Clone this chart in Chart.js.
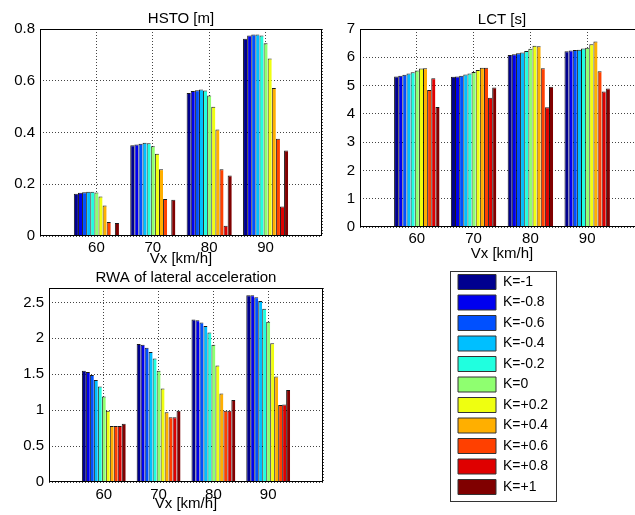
<!DOCTYPE html>
<html><head><meta charset="utf-8">
<script src="https://cdn.jsdelivr.net/npm/chart.js@4.4.1/dist/chart.umd.min.js"></script>
<style>
html,body{margin:0;padding:0;background:#fff;overflow:hidden;width:635px;height:515px}
#wrap{position:relative;width:635px;height:515px;overflow:hidden;background:#fff}
canvas{position:absolute}
</style></head><body>
<div id="wrap">
<canvas id="hsto" width="330" height="270" style="left:0px;top:0px"></canvas>
<canvas id="lct" width="334" height="265" style="left:320px;top:0px"></canvas>
<canvas id="rwa" width="330" height="257" style="left:0px;top:258px"></canvas>
<canvas id="leg" width="108" height="490" style="left:450px;top:269px"></canvas>
</div>
<script>
// ---- data ----
const categories = ['60', '70', '80', '90'];
const kLabels = ['K=-1', 'K=-0.8', 'K=-0.6', 'K=-0.4', 'K=-0.2', 'K=0', 'K=+0.2', 'K=+0.4', 'K=+0.6', 'K=+0.8', 'K=+1'];

const hsto60 = [0.163, 0.167, 0.169, 0.171, 0.171, 0.168, 0.153, 0.118, 0.054, 0.002, 0.050];
const hsto70 = [0.351, 0.354, 0.357, 0.360, 0.358, 0.347, 0.318, 0.258, 0.143, 0.004, 0.140];
const hsto80 = [0.553, 0.560, 0.563, 0.566, 0.562, 0.543, 0.500, 0.412, 0.258, 0.040, 0.234];
const hsto90 = [0.762, 0.775, 0.779, 0.779, 0.775, 0.745, 0.686, 0.572, 0.376, 0.114, 0.330];

const lct60 = [5.32, 5.35, 5.38, 5.43, 5.47, 5.53, 5.60, 5.61, 4.84, 5.26, 4.24];
const lct70 = [5.31, 5.32, 5.35, 5.39, 5.43, 5.48, 5.55, 5.63, 5.63, 4.57, 4.93];
const lct80 = [6.08, 6.11, 6.14, 6.17, 6.22, 6.30, 6.41, 6.39, 5.61, 4.23, 4.96];
const lct90 = [6.21, 6.24, 6.26, 6.27, 6.31, 6.34, 6.46, 6.56, 5.51, 4.79, 4.90];

const rwa60 = [1.55, 1.53, 1.49, 1.42, 1.33, 1.19, 0.99, 0.78, 0.78, 0.78, 0.81];
const rwa70 = [1.92, 1.91, 1.87, 1.81, 1.72, 1.55, 1.30, 0.97, 0.90, 0.90, 0.99];
const rwa80 = [2.26, 2.25, 2.22, 2.17, 2.08, 1.91, 1.62, 1.23, 0.99, 0.99, 1.14];
const rwa90 = [2.60, 2.60, 2.57, 2.52, 2.41, 2.23, 1.93, 1.47, 1.07, 1.08, 1.28];

const hstoTicks = [0, 0.2, 0.4, 0.6, 0.8];
const lctTicks = [0, 1, 2, 3, 4, 5, 6, 7];
const rwaTicks = [0, 0.5, 1, 1.5, 2, 2.5];
const rwaMax = 2.7;

// ---- styles ----
const colors = ['rgb(0,0,143)', 'rgb(0,0,239)', 'rgb(0,80,255)', 'rgb(0,191,255)', 'rgb(32,255,223)',
  'rgb(143,255,112)', 'rgb(239,255,16)', 'rgb(255,175,0)', 'rgb(255,64,0)', 'rgb(223,0,0)', 'rgb(128,0,0)'];

Chart.defaults.font.family = '"Liberation Sans", Arial, Helvetica, sans-serif';
Chart.defaults.font.size = 15;
Chart.defaults.color = '#000';

const axBox = {
  id: 'axbox',
  afterDatasetsDraw(chart) {
    const {ctx, chartArea: a} = chart;
    ctx.save();
    ctx.strokeStyle = '#000';
    ctx.lineWidth = 1;
    ctx.strokeRect(Math.round(a.left) + 0.5, Math.round(a.top) + 0.5,
      Math.round(a.right - a.left) - 1, Math.round(a.bottom - a.top) - 1);
    ctx.restore();
  }
};

function buildDatasets(groups) {
  return kLabels.map((lab, k) => ({
    label: lab,
    data: [null, ...groups.map(g => g[k]), null],
    backgroundColor: colors[k],
    borderColor: 'rgba(0,0,0,0.9)',
    borderWidth: {top: 1, left: 1, right: 0, bottom: 0},
    categoryPercentage: 0.8,
    barPercentage: 1.0
  }));
}

function makeChart(id, groups, cfg) {
  return new Chart(document.getElementById(id), {
    type: 'bar',
    data: {labels: ['', ...categories, ''], datasets: buildDatasets(groups)},
    options: {
      responsive: false, animation: false, devicePixelRatio: 1,
      layout: {padding: {left: 0, right: cfg.padRight, top: 0, bottom: 0}},
      plugins: {
        legend: {display: false},
        tooltip: {enabled: false},
        title: {display: true, text: cfg.title, color: '#000', fullSize: false,
          font: {size: 15, weight: 'normal'}, padding: cfg.titlePad}
      },
      scales: {
        x: {
          type: 'category', offset: false,
          grid: {offset: false, color: '#444', lineWidth: 1, drawTicks: false},
          border: {display: false, dash: [1, 2]},
          ticks: {color: '#000', font: {size: 15}, padding: cfg.xTickPad, autoSkip: false, maxRotation: 0, minRotation: 0},
          title: {display: true, text: 'Vx [km/h]', color: '#000', font: {size: 15}, padding: {top: 0, bottom: 2}},
          afterFit: s => { s.height = cfg.xH; }
        },
        y: {
          min: 0, max: cfg.max,
          grid: {color: '#444', lineWidth: 1, drawTicks: false},
          border: {display: false, dash: [1, 2]},
          ticks: {color: '#000', font: {size: 15}, padding: 5, callback: v => String(v)},
          afterBuildTicks: s => { s.ticks = cfg.ticks.map(v => ({value: v})); },
          afterFit: s => { s.width = cfg.yW; }
        }
      }
    },
    plugins: [axBox]
  });
}

makeChart('hsto', [hsto60, hsto70, hsto80, hsto90],
  {title: 'HSTO [m]', max: 0.8, ticks: hstoTicks, padRight: 8, yW: 40, xH: 34, xTickPad: 3, titlePad: {top: 10, bottom: 1}});
makeChart('lct', [lct60, lct70, lct80, lct90],
  {title: 'LCT [s]', max: 7, ticks: lctTicks, padRight: 10, yW: 40, xH: 38, xTickPad: 3, titlePad: {top: 11, bottom: 0}});
makeChart('rwa', [rwa60, rwa70, rwa80, rwa90],
  {title: 'RWA of lateral acceleration', max: rwaMax, ticks: rwaTicks, padRight: 7, yW: 49, xH: 33, xTickPad: 4, titlePad: {top: 11.3, bottom: 0.7}});

// ---- legend ----
const legBox = {
  id: 'legbox',
  afterDraw(chart) {
    const ctx = chart.ctx;
    ctx.save();
    ctx.strokeStyle = '#333';
    ctx.lineWidth = 1;
    ctx.strokeRect(0.5, 2.5, 106, 230);
    ctx.restore();
  }
};
new Chart(document.getElementById('leg'), {
  type: 'bar',
  data: {labels: [], datasets: kLabels.map((l, k) => ({label: l, data: [], backgroundColor: colors[k], borderColor: '#333', borderWidth: 1}))},
  options: {
    responsive: false, animation: false, devicePixelRatio: 1,
    layout: {padding: {left: 2.5, top: 0, right: 0, bottom: 0}},
    scales: {x: {display: false}, y: {display: false}},
    plugins: {
      tooltip: {enabled: false},
      title: {display: false},
      legend: {display: true, position: 'top', align: 'start',
        labels: {boxWidth: 38, boxHeight: 15, padding: 5.5, color: '#000', font: {size: 14}}}
    }
  },
  plugins: [legBox]
});
</script>
</body></html>
